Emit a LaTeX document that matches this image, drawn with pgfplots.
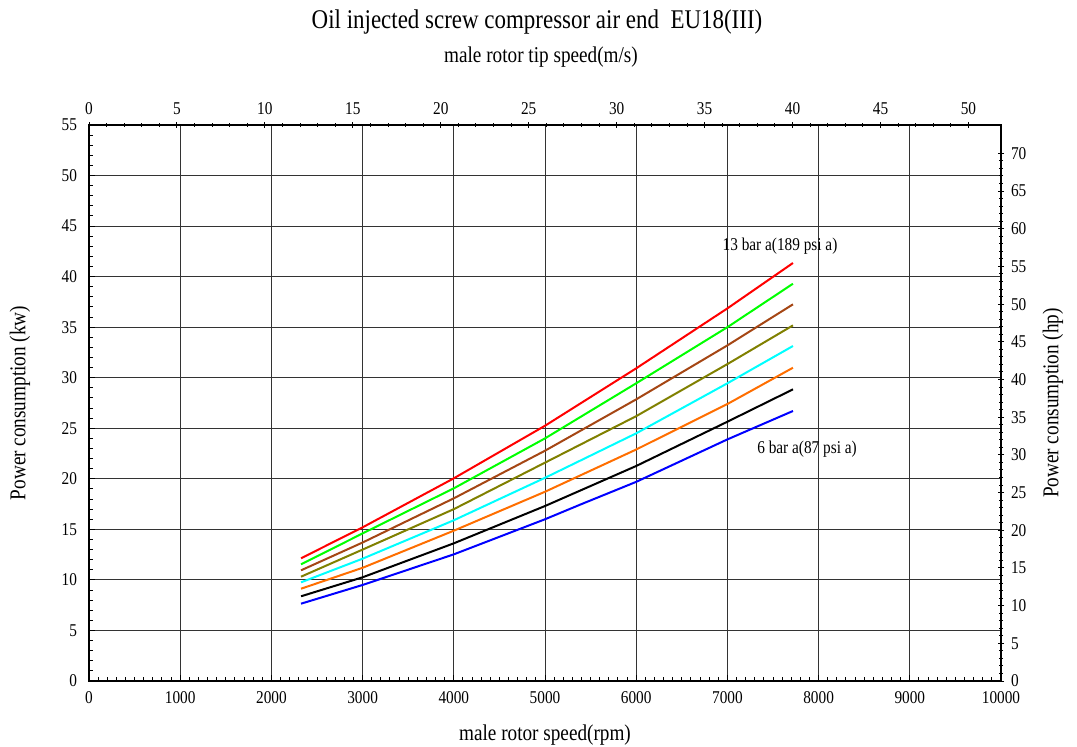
\documentclass[border=0pt]{standalone}
\usepackage{pgfplots}
\usepackage{pgfplotstable}
\pgfplotsset{compat=1.18}
\usepackage{fontspec}
\setmainfont{Liberation Serif}[FakeStretch=0.85]

\definecolor{cbrown}{RGB}{165,70,20}
\definecolor{colive}{RGB}{128,128,0}
\definecolor{corange}{RGB}{255,110,0}
\definecolor{ccyan}{RGB}{0,255,255}

% rpm, kW for each pressure (13 bar a at top down to 6 bar a)
\pgfplotstableread{
rpm   red    green  brown  olive  cyan   orange black
2325  12.14  11.54  10.95  10.32  9.76   9.13   8.38
3000  15.2   14.6   13.7   13.0   12.1   11.2   10.26
4000  20.05  19.06  18.07  17.0   15.9   14.87  13.62
5000  25.25  24.0   22.78  21.6   20.1   18.72  17.31
6000  30.93  29.45  27.86  26.2   24.5   22.9   21.27
7000  36.86  35.0   33.2   31.35  29.45  27.4   25.65
7719  41.35  39.30  37.26  35.18  33.14  30.99  28.85
}\curves
\pgfplotstableread{
rpm   kw
2325  7.65
3000  9.5
4000  12.53
5000  16.0
5400  17.5
6000  19.7
7000  23.9
7719  26.71
}\bluecurve

\begin{document}
\begin{tikzpicture}
\useasboundingbox (-44.5pt,-32.5pt) rectangle (494pt,340.5pt);
\pgfplotsset{
  every axis/.append style={
    scale only axis, width=456pt, height=278pt,
    at={(0,0)}, anchor=south west,
    /pgf/number format/assume math mode=true,
    /pgf/number format/1000 sep={},
    scaled x ticks=false, scaled y ticks=false,
    tick label style={font=\fontsize{9}{10}\selectfont},
    label style={font=\fontsize{11.3}{13}\selectfont},
    major tick length=3pt, minor tick length=2pt,
    tick style={black, line width=0.5pt},
  }
}
\begin{axis}[
  xmin=0, xmax=10000, ymin=0, ymax=55,
  xtick={0,1000,...,10000}, ytick={0,5,...,55},
  minor x tick num=9, minor y tick num=4,
  xtick pos=bottom, ytick pos=left, tick align=inside,
  xticklabel style={yshift=-1.5pt},
  yticklabel style={xshift=-2.5pt},
  axis line style={line width=1.1pt},
  grid=major, major grid style={black!80, line width=0.5pt},
  xlabel={male rotor speed(rpm)},
  ylabel={Power consumption (kw)},
  x label style={at={(axis description cs:0.5,-0.097)}, anchor=center},
  y label style={at={(axis description cs:-0.0757,0.5)}, anchor=center},
]
\addplot[red, line width=1pt] table[x=rpm, y=red] {\curves};
\addplot[green, line width=1pt] table[x=rpm, y=green] {\curves};
\addplot[cbrown, line width=1pt] table[x=rpm, y=brown] {\curves};
\addplot[colive, line width=1pt] table[x=rpm, y=olive] {\curves};
\addplot[ccyan, line width=1pt] table[x=rpm, y=cyan] {\curves};
\addplot[corange, line width=1pt] table[x=rpm, y=orange] {\curves};
\addplot[black, line width=1pt] table[x=rpm, y=black] {\curves};
\addplot[blue, line width=1pt] table[x=rpm, y=kw] {\bluecurve};
\node[font=\fontsize{9}{10}\selectfont] at (axis cs:7577,43.0) {13 bar a(189 psi a)};
\node[font=\fontsize{9}{10}\selectfont] at (axis cs:7873,22.95) {6 bar a(87 psi a)};
\end{axis}
\begin{axis}[
  xmin=0, xmax=51.85, ymin=0, ymax=73.76,
  axis x line*=top, axis y line*=right,
  axis line style={line width=1.1pt, -},
  xtick={0,5,...,50}, ytick={0,5,...,70},
  minor x tick num=4, minor y tick num=4,
  tick align=center,
  ylabel={Power consumption (hp)},
  y label style={at={(axis description cs:1.057,0.5)}, anchor=center},
]
\end{axis}
\node[font=\fontsize{13.5}{15}\selectfont] at (224pt,329.5pt) {Oil injected screw compressor air end~~EU18(III)};
\node[font=\fontsize{11.3}{13}\selectfont] at (226pt,312pt) {male rotor tip speed(m/s)};
\end{tikzpicture}
\end{document}
